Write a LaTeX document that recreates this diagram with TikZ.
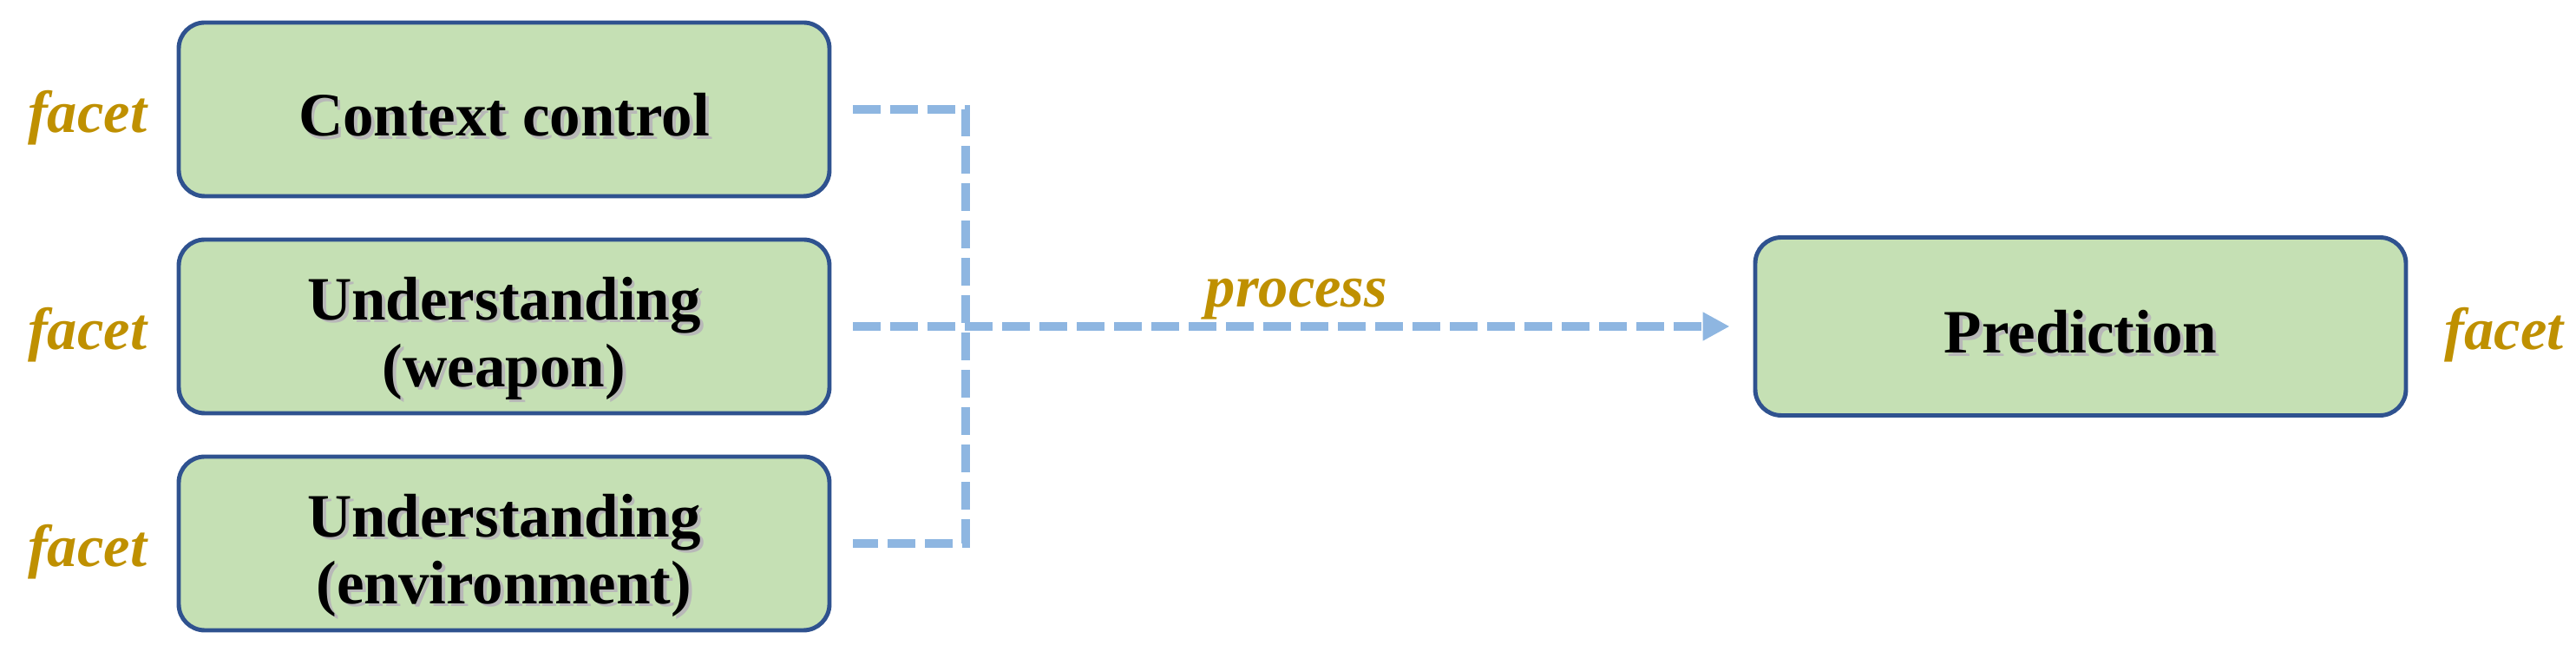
\documentclass[tikz,border=0pt]{standalone}
\usepackage{fontspec}
\setmainfont{Liberation Serif}
\usepackage{tikz}
\usetikzlibrary{positioning,arrows.meta}
\definecolor{boxfill}{HTML}{C5E0B4}
\definecolor{boxline}{HTML}{2F528F}
\definecolor{dashblue}{HTML}{8EB6E1}
\definecolor{facetgold}{HTML}{BF9000}
\newcommand{\shtxt}[1]{\raisebox{-1.7pt}[\height][\depth]{\makebox[0pt][l]{\kern1.1pt\raisebox{-1.1pt}{\color{black!28}#1}}#1}}
\tikzset{
	stage/.style={draw=boxline, line width=1.4pt, fill=boxfill, rounded corners=0.3cm,
		minimum width=7.5cm, minimum height=2cm, align=center, text depth=0pt,
		font=\fontsize{20.2}{21.9}\selectfont\bfseries},
	facet/.style={text=facetgold, font=\fontsize{19.5}{23}\selectfont\bfseries\itshape},
	side/.style={facet, yshift=-0.1cm},
	conn/.style={draw=dashblue, line width=2.85pt, dash pattern=on 0.32cm off 0.11cm}
}
\begin{document}
\begin{tikzpicture}
	\useasboundingbox (0,0) rectangle (29.69,7.51);
	
	\node[stage] (ctx) at (5.81,6.25) {\shtxt{Context control}};
	\node[stage] (wpn) at (5.81,3.75) {\shtxt{Understanding}\\\shtxt{(weapon)}};
	\node[stage] (env) at (5.81,1.25) {\shtxt{Understanding}\\\shtxt{(environment)}};
	\node[stage, minimum height=2.05cm] (pred) at (23.98,3.75) {\shtxt{Prediction}};
	
	\node[side, left=0.22cm of ctx] (fctx) {facet};
	\node[side, left=0.22cm of wpn] (fwpn) {facet};
	\node[side, left=0.22cm of env] (fenv) {facet};
	\node[side, right=0.3cm of pred] (fpred) {facet};
	
	\coordinate (bus) at (11.13,3.75);   % junction of the three inputs
	\draw[conn] ([xshift=0.25cm]ctx.east) -| (bus) |- ([xshift=0.25cm]env.east);
	\draw[conn, -{Triangle[length=0.31cm, width=0.31cm]}]
		([xshift=0.25cm]wpn.east) -- ([xshift=-0.27cm]pred.west)
		node[facet, midway, above=0.03cm, inner sep=0pt, xshift=0.06cm] (proc) {process};
	
\end{tikzpicture}
\end{document}
